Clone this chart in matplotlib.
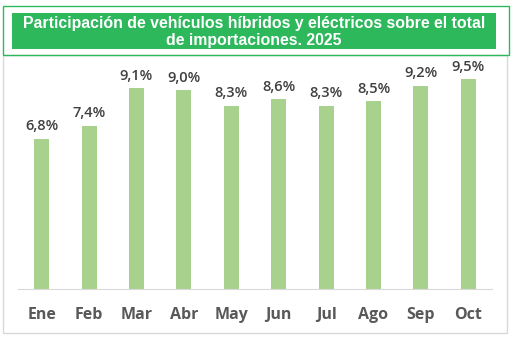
import matplotlib
matplotlib.use("Agg")
import matplotlib.pyplot as plt
from matplotlib.patches import Rectangle

months = ["Ene", "Feb", "Mar", "Abr", "May", "Jun", "Jul", "Ago", "Sep", "Oct"]
values = [6.8, 7.4, 9.1, 9.0, 8.3, 8.6, 8.3, 8.5, 9.2, 9.5]
title = "Participación de vehículos híbridos y eléctricos sobre el total\nde importaciones. 2025"

W, H = 514, 340
fig = plt.figure(figsize=(W / 100, H / 100), dpi=100)

def fx(x):
    return x / W

def fy(y):
    return 1 - y / H

# outer frames
fig.patches.append(Rectangle((fx(3), fy(333)), fx(504), (333 - 55) / H, transform=fig.transFigure,
                             facecolor="none", edgecolor="#D9D9D9", linewidth=1, zorder=-1))
fig.patches.append(Rectangle((fx(3), fy(55)), fx(506), (55 - 6) / H, transform=fig.transFigure,
                             facecolor="none", edgecolor="#2DB85C", linewidth=1, zorder=-1))
fig.patches.append(Rectangle((fx(12), fy(49)), fx(484), (49 - 13) / H, transform=fig.transFigure,
                             facecolor="#2DB85C", edgecolor="none", zorder=-1))
fig.text(fx(254), fy(32), title, ha="center", va="center", color="white",
         fontsize=11.4, fontweight="bold", family="Liberation Sans", linespacing=1.15)

ax = fig.add_axes([fx(18), fy(289), fx(474), (289 - 62) / H])
x = range(len(months))
bars = ax.bar(x, values, width=0.32, color="#A9D18E")
ax.set_xlim(-0.5, len(months) - 0.5)
ax.set_ylim(0, 10.29)
for xi, v in zip(x, values):
    ax.annotate(f"{v:.1f}%".replace(".", ","), (xi, v), xytext=(0, 4), textcoords="offset points",
                ha="center", va="bottom", fontsize=10.5, fontweight="semibold", color="#404040",
                family="Open Sans")
ax.set_xticks(list(x))
ax.set_xticklabels(months, fontsize=11.5, fontweight="bold", color="#595959", family="Open Sans")
ax.tick_params(axis="x", length=0, pad=13)
ax.set_yticks([])
for s in ["top", "right", "left"]:
    ax.spines[s].set_visible(False)
ax.spines["bottom"].set_color("#D9D9D9")
ax.patch.set_alpha(0)

fig.savefig("out.png", dpi=100)
